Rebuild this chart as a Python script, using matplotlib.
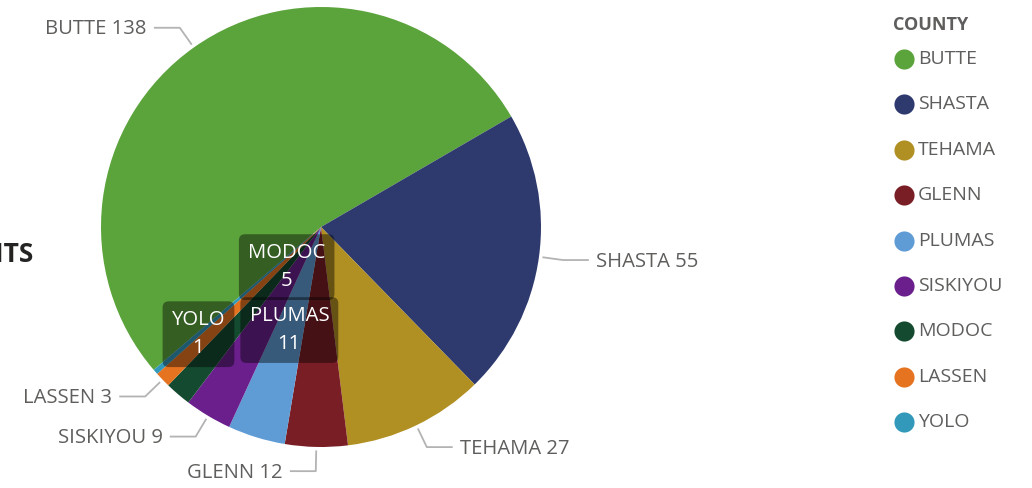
import numpy as np
import matplotlib.pyplot as plt

counties = ["BUTTE", "SHASTA", "TEHAMA", "GLENN", "PLUMAS", "SISKIYOU", "MODOC", "LASSEN", "YOLO"]
counts = [138, 55, 27, 12, 11, 9, 5, 3, 1]
colors = ["#5BA33B", "#2E3A6E", "#B08F23", "#7A1E25", "#5F9BD5",
          "#6A1F8C", "#144A2F", "#E57320", "#3299BB"]

# these get their label inside the pie (dark box), at this fraction of the radius
inside = {"MODOC": 0.24, "PLUMAS": 0.49, "YOLO": 0.74}

W, H = 1032, 488
cx, cy, R = 321, H - 227, 220

plt.rcParams['font.family'] = ['Open Sans', 'DejaVu Sans']
fig = plt.figure(figsize=(W / 100, H / 100), dpi=100)
ax = fig.add_axes([0, 0, 1, 1])

wedges, _ = ax.pie(counts, colors=colors, center=(cx, cy), radius=R,
                   startangle=220.5, counterclock=False,
                   wedgeprops=dict(linewidth=0))
ax.set_xlim(0, W)
ax.set_ylim(0, H)
ax.set_aspect('equal')
ax.axis('off')

label_col = '#605E5C'
for w, name, n in zip(wedges, counties, counts):
    mid = np.deg2rad((w.theta1 + w.theta2) / 2)
    ux, uy = np.cos(mid), np.sin(mid)
    if name in inside:
        r = inside[name] * R
        ax.text(cx + r * ux, cy + r * uy, f"{name}\n{n}", ha='center', va='center',
                color='white', fontsize=14.6, linespacing=1.5,
                bbox=dict(boxstyle='round,pad=0.45,rounding_size=0.3',
                          fc=(0, 0, 0, 0.42), ec='none'))
    else:
        x0, y0 = cx + 1.02 * R * ux, cy + 1.02 * R * uy
        x1, y1 = cx + 1.11 * R * ux, cy + 1.11 * R * uy
        side = 1 if ux > 0 else -1
        x2 = x1 + 25 * side
        ax.plot([x0, x1, x2], [y0, y1, y1], color='#b3b3b3', lw=1.3)
        ax.text(x2 + 8 * side, y1 - 1.5, f"{name} {n}", ha='left' if side > 0 else 'right',
                va='center', color=label_col, fontsize=14.6)

# legend
ax.text(893, H - 25, "COUNTY", ha='left', va='center', fontsize=13,
        fontweight='bold', color='#605E5C')
for i, (name, c) in enumerate(zip(counties, colors)):
    y = H - (59 + i * 45.4)
    ax.plot([904], [y], marker='o', ms=14.5, color=c, mec='none')
    ax.text(918, y, name, ha='left', va='center', fontsize=14, color='#605E5C')

# title, cut off by the left edge
fig.text(34 / W, 1 - 255 / H, "COUNTS", ha='right', va='center', fontsize=19,
         fontweight='bold', color='#252423')

fig.savefig("out.png", dpi=100)
